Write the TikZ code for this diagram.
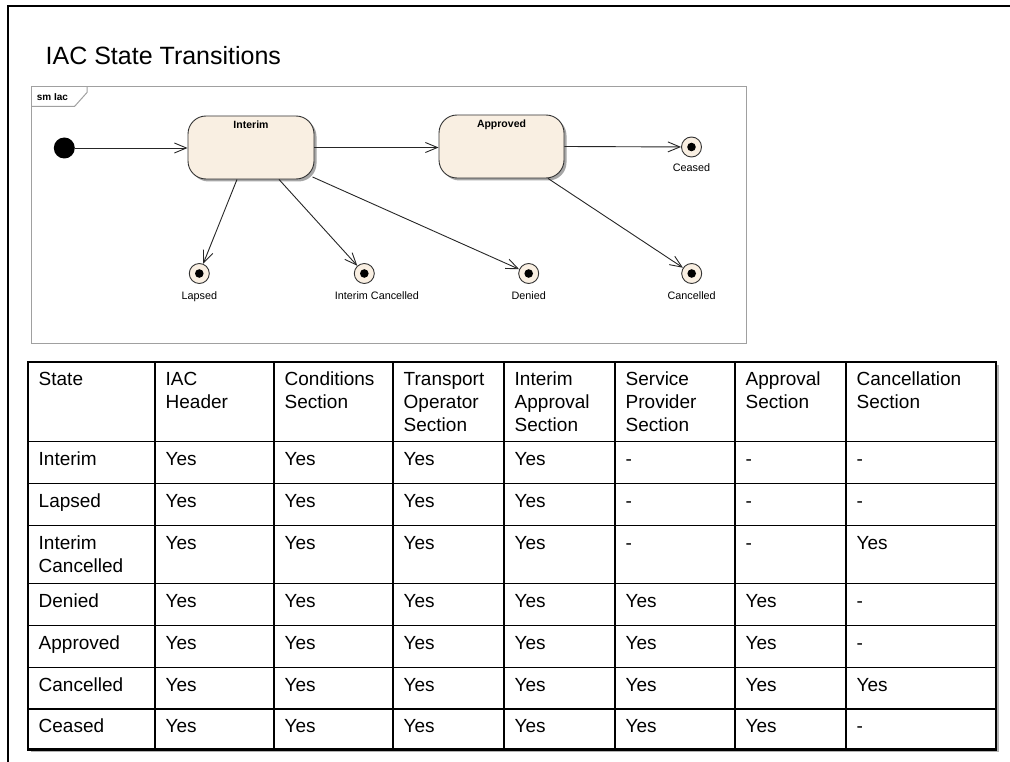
\documentclass[tikz,border=0pt]{standalone}
\usepackage{fontspec}
\setmainfont{Liberation Sans}
\usetikzlibrary{arrows.meta,shadows}
\definecolor{statefill}{RGB}{249,239,226}
\definecolor{framegray}{RGB}{160,160,160}
\newcommand\tabfont{\fontsize{19}{23}\selectfont}
\newcommand\tabrow[9]{%
  \node[cell] (r#1c1) at (38.5,#1+8.6) {\rule{0pt}{15pt}#2};
  \node[cell] (r#1c2) at (165.5,#1+8.6) {\rule{0pt}{15pt}#3};
  \node[cell] (r#1c3) at (284.5,#1+8.6) {\rule{0pt}{15pt}#4};
  \node[cell] (r#1c4) at (403.5,#1+8.6) {\rule{0pt}{15pt}#5};
  \node[cell] (r#1c5) at (514.5,#1+8.6) {\rule{0pt}{15pt}#6};
  \node[cell] (r#1c6) at (625.5,#1+8.6) {\rule{0pt}{15pt}#7};
  \node[cell] (r#1c7) at (745.5,#1+8.6) {\rule{0pt}{15pt}#8};
  \node[cell] (r#1c8) at (856.5,#1+8.6) {\rule{0pt}{15pt}#9};
}
\begin{document}
\begin{tikzpicture}[x=1pt,y=-1pt,
  cell/.style={anchor=north west,inner sep=0pt,align=left,font=\tabfont},
  statebox/.style={draw=black!80,line width=0.9pt,fill=statefill,rounded corners=18pt,
    drop shadow={shadow xshift=2.5pt,shadow yshift=-2.5pt,opacity=0.35,fill=black}},
  statelbl/.style={font=\fontsize{10.5}{12}\selectfont\bfseries,inner sep=0pt,anchor=base},
  finalst/.style={circle,draw=black!80,line width=0.9pt,fill=statefill,minimum size=20pt,inner sep=0pt},
  finaldot/.style={circle,fill=black,minimum size=8.6pt,inner sep=0pt},
  smalllbl/.style={font=\fontsize{10.8}{12}\selectfont,inner sep=0pt,anchor=base},
  trans/.style={draw=black!85,line width=0.9pt,-{Straight Barb[length=12pt,width=10pt,line width=0.9pt]}}
]
\useasboundingbox (0,0) rectangle (1010,762);
% page border
\draw[line width=2pt] (7.5,762) -- (7.5,5.8) -- (1010,5.8);
% title
\node[anchor=base west,inner sep=0pt,font=\fontsize{25}{30}\selectfont] (title) at (45.5,65) {IAC State Transitions};
% diagram frame
\draw[framegray,line width=1pt] (31,87) rectangle (746,343);
\draw[framegray,line width=1pt] (31,106.5) -- (74.5,106.5) -- (87,92.5) -- (87,87);
\node[anchor=base west,inner sep=0pt,font=\fontsize{10}{12}\selectfont\bfseries] (smlbl) at (36.7,100.5) {sm Iac};
% states
\node[circle,fill=black,minimum size=21pt,inner sep=0pt] (init) at (64.3,148) {};
\node[statebox,minimum width=126pt,minimum height=63pt] (interim) at (251,147.5) {};
\node[statelbl] (interimlbl) at (251,129) {Interim};
\node[statebox,minimum width=125pt,minimum height=63pt] (approved) at (501.5,146.5) {};
\node[statelbl] (approvedlbl) at (501.5,127.8) {Approved};
% final states
\node[finalst] (ceased) at (691.5,147) {};
\node[finaldot] (ceaseddot) at (ceased) {};
\node[smalllbl] (ceasedlbl) at (691.5,171.5) {Ceased};
\node[finalst] (lapsed) at (199.3,273.5) {};
\node[finaldot] (lapseddot) at (lapsed) {};
\node[smalllbl] (lapsedlbl) at (199.3,299) {Lapsed};
\node[finalst] (icanc) at (364.3,273.5) {};
\node[finaldot] (icancdot) at (icanc) {};
\node[smalllbl] (icanclbl) at (377,299) {Interim Cancelled};
\node[finalst] (denied) at (528.7,273.5) {};
\node[finaldot] (denieddot) at (denied) {};
\node[smalllbl] (deniedlbl) at (528.7,299) {Denied};
\node[finalst] (cancelled) at (691.7,273.5) {};
\node[finaldot] (cancelleddot) at (cancelled) {};
\node[smalllbl] (cancelledlbl) at (691.7,299) {Cancelled};
% transitions
\draw[trans] (init) -- (init -| interim.west);
\draw[trans] (interim.east) -- (interim.east -| approved.west);
\draw[trans] (approved.east) -- (ceased);
\draw[trans] ([xshift=-14pt]interim.south) -- (lapsed);
\draw[trans] ([xshift=28pt]interim.south) -- (icanc);
\draw[trans] ([xshift=-2pt,yshift=2.5pt]interim.south east) -- (denied);
\draw[trans] ([xshift=46.5pt]approved.south) -- (cancelled);
% table
\fill[black!30] (30.5,364.5) rectangle (998.5,752);
\fill[white] (28,362) rectangle (996,749.5);
\foreach \yy in {441.5,483.5,525.5,583.5,625.5,667.5,709}
  \draw[line width=1.3pt] (28,\yy) -- (996,\yy);
\foreach \xx in {155,274,393,504,615,735,846}
  \draw[line width=1.3pt] (\xx,362) -- (\xx,749.5);
\draw[line width=2.6pt] (28,362) rectangle (996,749.5);
\tabrow{362}{State}{IAC\\Header}{Conditions\\Section}{Transport\\Operator\\Section}{Interim\\Approval\\Section}{Service\\Provider\\Section}{Approval\\Section}{Cancellation\\Section}
\tabrow{441.5}{Interim}{Yes}{Yes}{Yes}{Yes}{-}{-}{-}
\tabrow{483.5}{Lapsed}{Yes}{Yes}{Yes}{Yes}{-}{-}{-}
\tabrow{525.5}{Interim\\Cancelled}{Yes}{Yes}{Yes}{Yes}{-}{-}{Yes}
\tabrow{583.5}{Denied}{Yes}{Yes}{Yes}{Yes}{Yes}{Yes}{-}
\tabrow{625.5}{Approved}{Yes}{Yes}{Yes}{Yes}{Yes}{Yes}{-}
\tabrow{667.5}{Cancelled}{Yes}{Yes}{Yes}{Yes}{Yes}{Yes}{Yes}
\tabrow{709}{Ceased}{Yes}{Yes}{Yes}{Yes}{Yes}{Yes}{-}
\end{tikzpicture}
\end{document}
